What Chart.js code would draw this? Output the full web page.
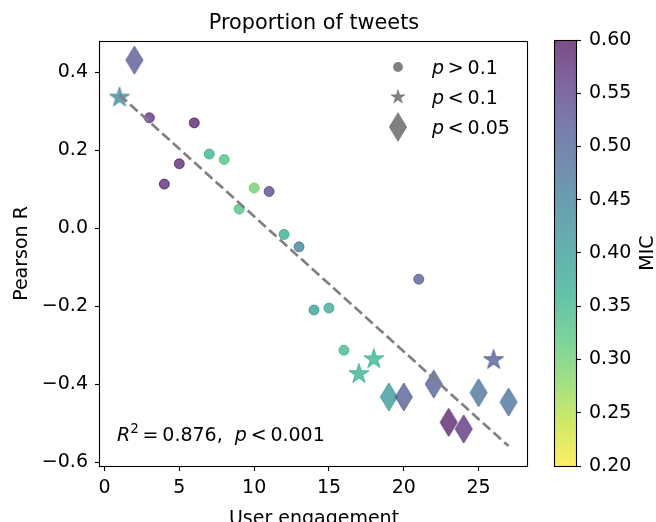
<!DOCTYPE html>
<html>
<head>
<meta charset="utf-8">
<script src="https://cdn.jsdelivr.net/npm/chart.js@4.4.0/dist/chart.umd.min.js"></script>
<style>
  html, body { margin: 0; padding: 0; background: #fff; overflow: hidden; }
  #wrap { position: relative; width: 656px; height: 522px; overflow: hidden; }
  #wrap canvas { position: absolute; left: 0; top: 0; }
</style>
</head>
<body>
<div id="wrap">
  <canvas id="scatter" width="656" height="540"></canvas>
  <canvas id="colorbar" width="656" height="540"></canvas>
</div>
<script>
// DATOS
var engagement = [1, 2, 3, 4, 5, 6, 7, 8, 9, 10, 11, 12, 13, 14, 15, 16, 17, 18, 19, 20, 21, 22, 23, 24, 25, 26, 27];
var pearsonR = [0.335, 0.431, 0.283, 0.113, 0.165, 0.270, 0.190, 0.176, 0.049, 0.103, 0.094, -0.016, -0.048,
                -0.210, -0.205, -0.313, -0.374, -0.336, -0.433, -0.433, -0.131, -0.400, -0.498, -0.515, -0.422, -0.338, -0.446];
var micValues = [0.44, 0.52, 0.57, 0.58, 0.58, 0.59, 0.36, 0.33, 0.33, 0.30, 0.54, 0.37, 0.45,
                 0.40, 0.37, 0.35, 0.36, 0.36, 0.41, 0.51, 0.51, 0.51, 0.59, 0.57, 0.48, 0.51, 0.48];
var significance = ["star", "diamond", "circle", "circle", "circle", "circle", "circle", "circle", "circle",
                    "circle", "circle", "circle", "circle", "circle", "circle", "circle", "star", "star",
                    "diamond", "diamond", "circle", "diamond", "diamond", "diamond", "diamond", "star", "diamond"];

// recta de ajuste
var fitX = [1, 27];
var fitY = [0.342, -0.559];

var legendShapes = ["circle", "star", "diamond"];
var legendLabels = ["p > 0.1", "p < 0.1", "p < 0.05"];

var rSquared = "0.876";
var fitPValue = "< 0.001";

var xTickStep = 5;
var yTickStep = 0.2;
var micMin = 0.2;
var micMax = 0.6;
var micTickStep = 0.05;

var FONT = "'DejaVu Sans', sans-serif";
var THIN = "\u2009";
Chart.defaults.font.family = FONT;
Chart.defaults.font.size = 19;
Chart.defaults.color = "#000";

// viridis (invertido en el colorbar)
var viridisStops = [[68, 1, 84], [72, 36, 117], [65, 68, 135], [53, 95, 141], [42, 120, 142], [33, 145, 140],
                    [34, 168, 132], [68, 191, 112], [122, 209, 81], [189, 223, 38], [253, 231, 37]];
function viridis(t) {
    t = Math.max(0, Math.min(1, t));
    var pos = t * (viridisStops.length - 1);
    var i = Math.min(Math.floor(pos), viridisStops.length - 2);
    var f = pos - i;
    var a = viridisStops[i], b = viridisStops[i + 1];
    return [0, 1, 2].map(function (k) { return Math.round(a[k] + (b[k] - a[k]) * f); });
}
function micRgba(v, alpha) {
    var c = viridis((micMax - v) / (micMax - micMin));
    return "rgba(" + c[0] + "," + c[1] + "," + c[2] + "," + alpha + ")";
}

function shapePath(g, shape, s) {
    g.beginPath();
    if (shape === "star") {
        var R = 10.5 * s, r = R * 0.381966;
        for (var i = 0; i < 10; i++) {
            var rad = i % 2 === 0 ? R : r;
            var a = -Math.PI / 2 + i * Math.PI / 5;
            g.lineTo(rad * Math.cos(a), rad * Math.sin(a));
        }
    } else if (shape === "diamond") {
        g.moveTo(0, -14 * s); g.lineTo(8.5 * s, 0); g.lineTo(0, 14 * s); g.lineTo(-8.5 * s, 0);
    } else {
        g.arc(0, 0, 5.5 * s, 0, Math.PI * 2);
    }
    g.closePath();
}

function makeMarker(shape, color) {
    var c = document.createElement("canvas");
    c.width = 26; c.height = 32;
    var g = c.getContext("2d");
    g.translate(13, 16);
    shapePath(g, shape, 1);
    g.fillStyle = color; g.fill();
    g.lineWidth = 1; g.strokeStyle = color; g.stroke();
    return c;
}

function buildDataset(shape, order) {
    var pts = [], cols = [], imgs = [];
    for (var i = 0; i < engagement.length; i++) {
        if (significance[i] !== shape) { continue; }
        var col = micRgba(micValues[i], 0.7);
        pts.push({x: engagement[i], y: pearsonR[i]});
        cols.push(col);
        imgs.push(shape === "circle" ? "circle" : makeMarker(shape, col));
    }
    return {
        label: shape,
        data: pts,
        order: order,
        pointStyle: function (ctx) { return imgs[ctx.dataIndex]; },
        pointRadius: shape === "circle" ? 5 : 10,
        pointBackgroundColor: cols,
        pointBorderColor: cols,
        pointBorderWidth: 1
    };
}

function fmtTick(v, d) {
    if (Math.abs(v) < 1e-9) { v = 0; }
    return v.toFixed(d).replace("-", "\u2212");
}

function drawRich(ctx, parts, x, y) {
    parts.forEach(function (p) {
        ctx.font = (p.italic ? "italic " : "") + (p.size || 19) + "px " + FONT;
        ctx.fillText(p.text, x, y + (p.dy || 0));
        x += ctx.measureText(p.text).width;
    });
}

// "p > 0.1" -> espacios finos alrededor del operador
function relText(s) {
    var parts = s.split(" ");
    return parts.join(THIN);
}

// textos y marco del grafico
var decorPlugin = {
    id: "decor",
    afterDraw: function (chart) {
        var ctx = chart.ctx;
        var a = chart.chartArea;
        ctx.save();
        ctx.strokeStyle = "#000";
        ctx.lineWidth = 1.1;
        ctx.strokeRect(Math.round(a.left) - 0.5, Math.round(a.top) + 0.5, Math.round(a.right - a.left), Math.round(a.bottom - a.top));

        ctx.fillStyle = "#000";
        ctx.textAlign = "center";
        ctx.textBaseline = "alphabetic";
        ctx.font = "20.8px " + FONT;
        ctx.fillText("Proportion of tweets", (a.left + a.right) / 2, a.top - 12);

        // leyenda
        ctx.textAlign = "left";
        legendShapes.forEach(function (shape, i) {
            var mx = a.right - 130, my = a.top + 26 + i * 30;
            ctx.save();
            ctx.translate(mx, my);
            shapePath(ctx, shape, shape === "circle" ? 0.9 : (shape === "star" ? 0.8 : 1.07));
            ctx.fillStyle = "#808080";
            ctx.fill();
            ctx.restore();
            var lbl = legendLabels[i];
            drawRich(ctx, [{text: lbl.charAt(0), italic: true}, {text: relText(lbl.substring(1))}], a.right - 96, my + 7);
        });

        // anotacion R^2
        drawRich(ctx, [
            {text: "R", italic: true},
            {text: "2", size: 13.5, dy: -8},
            {text: THIN + "=" + THIN + rSquared + ",  "},
            {text: "p", italic: true},
            {text: THIN + relText(fitPValue)}
        ], a.left + 17, a.bottom - 25);
        ctx.restore();
    }
};

new Chart(document.getElementById("scatter"), {
    type: "scatter",
    data: {
        datasets: [
            {
                label: "fit",
                data: fitX.map(function (x, i) { return {x: x, y: fitY[i]}; }),
                showLine: true,
                order: 0,
                borderColor: "#808080",
                borderWidth: 2.7,
                borderDash: [10, 4.4],
                pointRadius: 0
            },
            buildDataset("diamond", 1),
            buildDataset("star", 2),
            buildDataset("circle", 3)
        ]
    },
    options: {
        responsive: false,
        animation: false,
        events: [],
        layout: {padding: {left: 0, right: 128, top: 41, bottom: 0}},
        plugins: {legend: {display: false}, tooltip: {enabled: false}},
        scales: {
            x: {
                min: -0.3,
                max: 28.3,
                afterFit: function (scale) { scale.height = 74; },
                border: {display: false},
                grid: {drawOnChartArea: false, tickLength: 5, tickColor: "#000", tickWidth: 1.1},
                ticks: {stepSize: xTickStep, includeBounds: false, padding: 6, maxRotation: 0,
                        callback: function (v) { return fmtTick(v, 0); }},
                title: {display: true, text: "User engagement", padding: {top: 0, bottom: 10}}
            },
            y: {
                min: -0.61,
                max: 0.48,
                afterFit: function (scale) { scale.width = 100; },
                border: {display: false},
                grid: {drawOnChartArea: false, tickLength: 5, tickColor: "#000", tickWidth: 1.1},
                ticks: {stepSize: yTickStep, includeBounds: false, padding: 7,
                        callback: function (v) { return fmtTick(v, 1); }},
                title: {display: true, text: "Pearson R", padding: {top: 11, bottom: 0}}
            }
        }
    },
    plugins: [decorPlugin]
});

// COLORBAR
var micLabelPlugin = {
    id: "micLabel",
    afterDraw: function (chart) {
        var ctx = chart.ctx;
        var a = chart.chartArea;
        ctx.save();
        ctx.strokeStyle = "#000";
        ctx.lineWidth = 1.1;
        ctx.strokeRect(Math.round(a.left) + 0.5, Math.round(a.top) + 0.5, Math.round(a.right - a.left), Math.round(a.bottom - a.top));
        ctx.translate(648, (a.top + a.bottom) / 2);
        ctx.rotate(-Math.PI / 2);
        ctx.fillStyle = "#000";
        ctx.textAlign = "center";
        ctx.textBaseline = "middle";
        ctx.font = "19px " + FONT;
        ctx.fillText("MIC", 0, 0);
        ctx.restore();
    }
};

new Chart(document.getElementById("colorbar"), {
    type: "bar",
    data: {
        labels: ["MIC"],
        datasets: [{
            data: [[micMin, micMax]],
            categoryPercentage: 1,
            barPercentage: 1,
            borderWidth: 0,
            backgroundColor: function (ctx) {
                var chart = ctx.chart;
                var ys = chart.scales.y;
                if (!chart.chartArea || !ys) { return "#ccc"; }
                var g = chart.ctx.createLinearGradient(0, ys.getPixelForValue(micMin), 0, ys.getPixelForValue(micMax));
                for (var i = 0; i <= 20; i++) {
                    var v = micMin + (micMax - micMin) * i / 20;
                    g.addColorStop(i / 20, micRgba(v, 0.7));
                }
                return g;
            }
        }]
    },
    options: {
        responsive: false,
        animation: false,
        events: [],
        layout: {padding: {left: 554, right: 0, top: 40, bottom: 74}},
        plugins: {legend: {display: false}, tooltip: {enabled: false}},
        scales: {
            x: {display: false},
            y: {
                position: "right",
                min: micMin,
                max: micMax,
                afterFit: function (scale) { scale.width = 80; },
                border: {display: false},
                grid: {drawOnChartArea: false, tickLength: 5, tickColor: "#000", tickWidth: 1.1},
                ticks: {stepSize: micTickStep, padding: 8,
                        callback: function (v) { return fmtTick(v, 2); }}
            }
        }
    },
    plugins: [micLabelPlugin]
});
</script>
</body>
</html>
